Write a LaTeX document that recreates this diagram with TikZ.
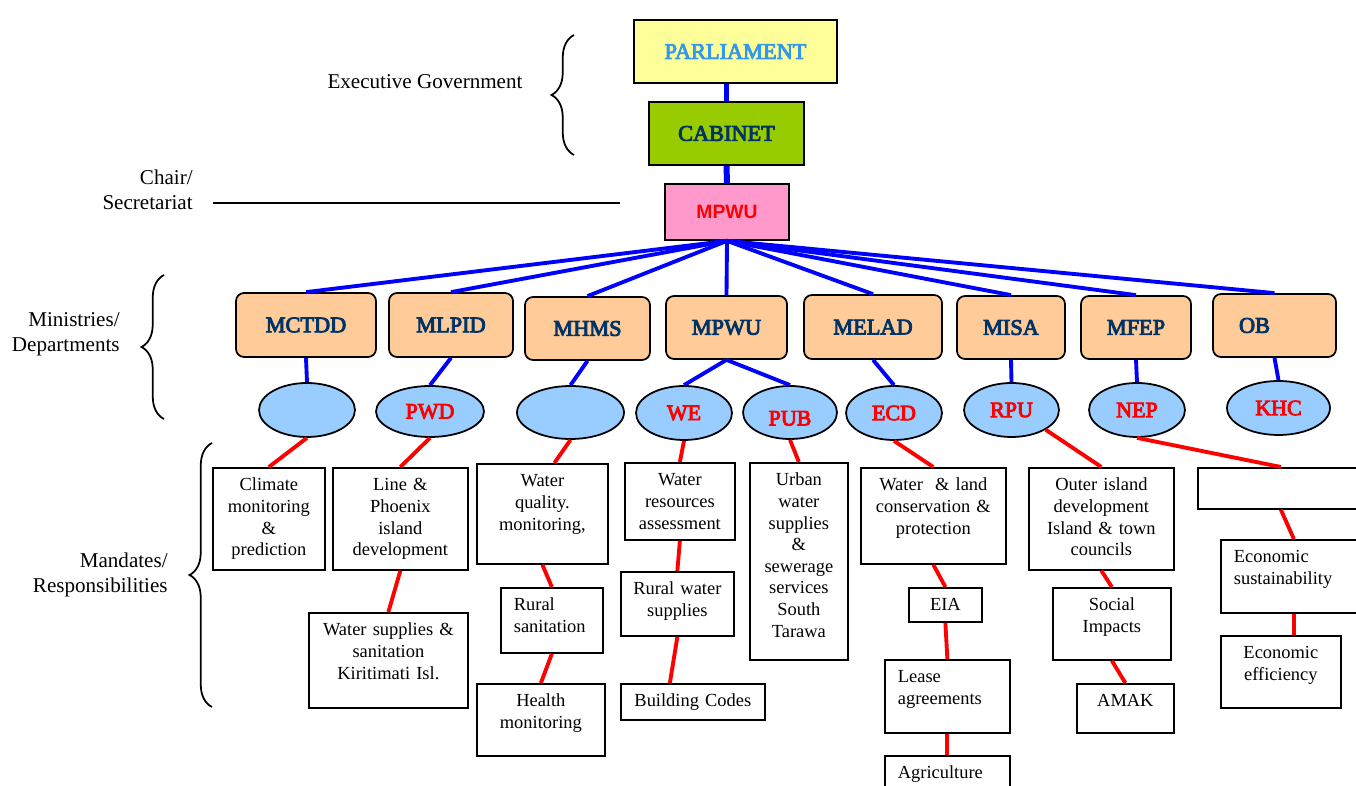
\documentclass[tikz,border=0pt]{standalone}
\usepackage{fontspec}
\setmainfont{Liberation Serif}[BoldFont={Liberation Serif}, BoldFeatures={FakeBold=4}]
\newfontfamily\arialfont{Liberation Sans}
\usetikzlibrary{shapes.geometric,decorations.pathreplacing}

\definecolor{parlfill}{HTML}{FFFF99}
\definecolor{parltext}{HTML}{3399EE}
\definecolor{cabfill}{HTML}{99CC00}
\definecolor{navy}{HTML}{003366}
\definecolor{pinkfill}{HTML}{FF99CC}
\definecolor{minfill}{HTML}{FFCC99}
\definecolor{unitfill}{HTML}{99CCFF}

\begin{document}
\begin{tikzpicture}[
  x=0.02cm, y=-0.02cm,
  top/.style={draw, line width=1pt, inner sep=0pt, font=\fontsize{12.7}{14}\selectfont\bfseries},
  ministry/.style={draw, line width=1pt, rounded corners=0.16cm, fill=minfill, text=navy, inner sep=0pt, font=\fontsize{12.7}{14}\selectfont\bfseries},
  unit/.style={ellipse, draw, line width=1pt, fill=unitfill, text=red, inner sep=0pt, font=\fontsize{12.5}{14}\selectfont\bfseries},
  mandate/.style 2 args={draw, line width=1pt, anchor=north west, align=center, inner xsep=0.1cm, inner ysep=0.12cm, text height=0.34cm, text width=#1, text depth=#2, font=\fontsize{10.5}{12.3}\selectfont},
  side/.style={align=right, anchor=east, inner sep=0pt, font=\fontsize{12}{14.2}\selectfont},
  blueline/.style={blue, line width=2.2pt},
  redline/.style={red, line width=2.2pt},
  bracket/.style={decorate, decoration={brace, amplitude=0.45cm}, line width=1pt}
]
\useasboundingbox (0,0) rectangle (1356,786);

\node[top, fill=parlfill, text=parltext, minimum width=4.06cm, minimum height=1.26cm] (parliament) at (735.5,51.5) {PARLIAMENT};
\node[top, fill=cabfill, text=navy, minimum width=3.10cm, minimum height=1.26cm] (cabinet) at (726.5,133.5) {CABINET};
\node[top, fill=pinkfill, text=red, minimum width=2.48cm, minimum height=1.12cm, font=\fontsize{11}{13}\selectfont\arialfont\bfseries] (mpwu) at (727,212) {MPWU};

\node[side, anchor=center, align=center] (exec) at (425,82) {Executive Government};
\node[side] (chair) at (193,190) {Chair/\\Secretariat};
\node[side] (mindep) at (120,334.5) {Ministries/\\Departments};
\node[side] (mandates) at (168,574.5) {Mandates/\\Responsibilities};
\coordinate (chairend) at (620,203);

\node[ministry, minimum width=2.80cm, minimum height=1.28cm] (mctdd) at (306,325) {MCTDD};
\node[ministry, minimum width=2.48cm, minimum height=1.28cm] (mlpid) at (451,325) {MLPID};
\node[ministry, minimum width=2.50cm, minimum height=1.26cm] (mhms) at (587.5,328.5) {MHMS};
\node[ministry, minimum width=2.42cm, minimum height=1.26cm] (mpwudep) at (726.5,327.5) {MPWU};
\node[ministry, minimum width=2.76cm, minimum height=1.28cm] (melad) at (873,327) {MELAD};
\node[ministry, minimum width=2.16cm, minimum height=1.26cm] (misa) at (1011,327.5) {MISA};
\node[ministry, minimum width=2.20cm, minimum height=1.26cm] (mfep) at (1136,327.5) {MFEP};
\node[ministry, minimum width=2.46cm, minimum height=1.26cm, text width=1.42cm, align=left, inner xsep=0.52cm] (ob) at (1274.5,325.5) {OB};

\node[unit, minimum width=1.92cm, minimum height=1.08cm] (mctddunit) at (307,410) {};
\node[unit, minimum width=2.16cm, minimum height=1.02cm] (pwd) at (430,411.5) {PWD};
\node[unit, minimum width=2.14cm, minimum height=1.06cm] (mhmsunit) at (570.5,412.5) {};
\node[unit, minimum width=1.92cm, minimum height=1.08cm] (we) at (684,413) {WE};
\node[unit, minimum width=1.88cm, minimum height=1.06cm, text height=0.52cm] (pub) at (790,412.5) {PUB};
\node[unit, minimum width=1.92cm, minimum height=1.08cm] (ecd) at (894,413) {ECD};
\node[unit, minimum width=1.90cm, minimum height=1.08cm] (rpu) at (1011.5,410) {RPU};
\node[unit, minimum width=1.92cm, minimum height=1.08cm] (nep) at (1137,410) {NEP};
\node[unit, minimum width=2.06cm, minimum height=1.08cm] (khc) at (1278.5,408) {KHC};

\node[mandate={2.04cm}{1.46cm}] (climate) at (212,467) {Climate\\monitoring\\\&\\prediction};
\node[mandate={2.50cm}{1.46cm}] (phoenix) at (332,467) {Line \&\\Phoenix\\island\\development};
\node[mandate={2.98cm}{1.32cm}] (kiritimati) at (308,612) {Water supplies \&\\sanitation\\Kiritimati Isl.};
\node[mandate={2.42cm}{1.42cm}] (quality) at (476,463) {Water\\quality.\\monitoring,};
\node[mandate={1.52cm}{0.72cm}, align=left, inner xsep=0.26cm] (sanitation) at (500,587) {Rural\\sanitation};
\node[mandate={2.36cm}{0.86cm}] (health) at (476,683) {Health\\monitoring};
\node[mandate={2.00cm}{0.96cm}] (resources) at (624,462) {Water\\resources\\assessment};
\node[mandate={2.06cm}{0.70cm}] (rural) at (620,571) {Rural water\\supplies};
\node[mandate={2.68cm}{0.14cm}] (codes) at (620,683) {Building Codes};
\node[mandate={1.76cm}{3.36cm}] (urban) at (749,462) {Urban\\water\\supplies\\\&\\sewerage\\services\\South\\Tarawa};
\node[mandate={2.70cm}{1.34cm}] (landcons) at (860,467) {Water~~\& land\\conservation \&\\protection};
\node[mandate={1.26cm}{0.10cm}] (eia) at (908,587) {EIA};
\node[mandate={1.98cm}{0.88cm}, align=left, inner xsep=0.26cm] (lease) at (884,659) {Lease\\agreements};
\node[mandate={1.98cm}{0.62cm}, align=left, inner xsep=0.26cm] (agri) at (884,755) {Agriculture};
\node[mandate={2.70cm}{1.46cm}] (outer) at (1028,467) {Outer island\\development\\Island \& town\\councils};
\node[mandate={2.16cm}{0.86cm}] (social) at (1052,587) {Social\\Impacts};
\node[mandate={1.74cm}{0.40cm}] (amak) at (1076,683) {AMAK};
\node[mandate={3.12cm}{0.24cm}] (nepblank) at (1197,467) {};
\node[mandate={2.40cm}{0.88cm}, align=left, inner xsep=0.26cm] (sustain) at (1220,539) {Economic\\sustainability};
\node[mandate={2.20cm}{0.86cm}] (efficiency) at (1220,635) {Economic\\efficiency};

\draw[bracket] (574,155) -- (574,35);
\draw[bracket] (164,419) -- (164,275);
\draw[bracket] (212,707) -- (212,443);
\draw[line width=1pt] ([xshift=0.4cm]chair.east |- chairend) -- (chairend);

\draw[blue, line width=3.4pt] (parliament.south -| cabinet.north) -- (cabinet.north);
\draw[blue, line width=3.4pt] (cabinet.south) -- (mpwu.north);
\draw[blueline] (mpwu.south) -- (mctdd.north);
\draw[blueline] (mpwu.south) -- (mlpid.north);
\draw[blueline] (mpwu.south) -- (mhms.north);
\draw[blueline] (mpwu.south) -- (mpwudep.north);
\draw[blueline] (mpwu.south) -- (melad.north);
\draw[blueline] (mpwu.south) -- (misa.north);
\draw[blueline] (mpwu.south) -- (mfep.north);
\draw[blueline] (mpwu.south) -- (ob.north);

\draw[blueline] (mctdd.south) -- (mctddunit.north);
\draw[blueline] (mlpid.south) -- (pwd.north);
\draw[blueline] (mhms.south) -- (mhmsunit.north);
\draw[blueline] (mpwudep.south) -- (we.north);
\draw[blueline] (mpwudep.south) -- (pub.north);
\draw[blueline] (melad.south) -- (ecd.north);
\draw[blueline] (misa.south) -- (rpu.north);
\draw[blueline] (mfep.south) -- (nep.north);
\draw[blueline] (ob.south) -- (khc.north);

\draw[redline] (mctddunit.south) -- (climate.north);
\draw[redline] (pwd.south) -- (phoenix.north);
\draw[redline] (phoenix.south) -- (kiritimati.north);
\draw[redline] (mhmsunit.south) -- ([xshift=0.24cm]quality.north);
\draw[redline] (quality.south) -- (sanitation.north);
\draw[redline] (sanitation.south) -- (health.north);
\draw[redline] (we.south) -- (resources.north);
\draw[redline] (resources.south) -- (rural.north);
\draw[redline] (rural.south) -- ([xshift=-0.46cm]codes.north);
\draw[redline] (pub.south) -- (urban.north);
\draw[redline] (ecd.south) -- (landcons.north);
\draw[redline] (landcons.south) -- (eia.north);
\draw[redline] (eia.south) -- (lease.north);
\draw[redline] (lease.south) -- (agri.north);
\draw[redline] (rpu.-30) -- (outer.north);
\draw[redline] (outer.south) -- (social.north);
\draw[redline] (social.south) -- (amak.north);
\draw[redline] (nep.south) -- (nepblank.north);
\draw[redline] (nepblank.south) -- (sustain.north);
\draw[redline] (sustain.south) -- (sustain.south |- efficiency.north);
\end{tikzpicture}
\end{document}
